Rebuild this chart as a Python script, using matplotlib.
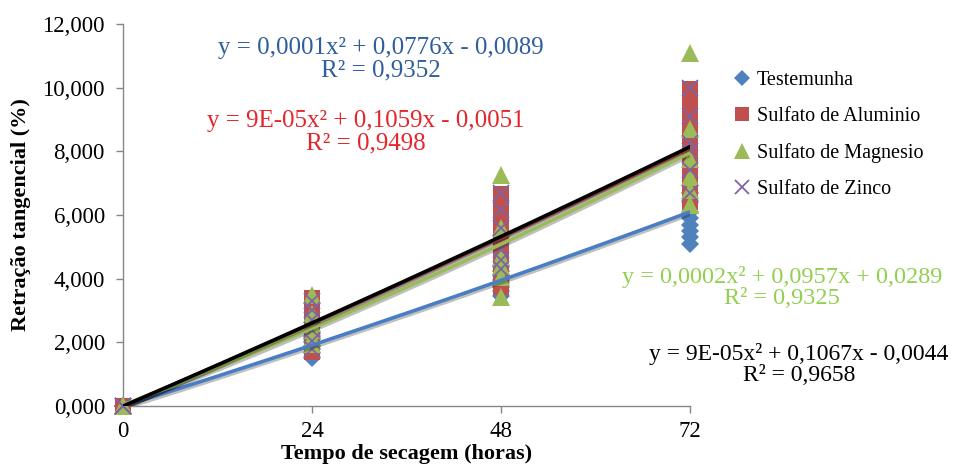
import numpy as np
import matplotlib
matplotlib.use("Agg")
import matplotlib.pyplot as plt
import matplotlib.patheffects as pe
from matplotlib.ticker import FuncFormatter

plt.rcParams['font.family'] = ['Liberation Serif', 'DejaVu Serif']

# tempos de secagem (horas)
tempo = [0, 24, 48, 72]

# leituras de retracao tangencial (%) por tempo, estimadas do grafico
testemunha = [
    [0, 0, 0, 0],
    [1.5, 1.65, 1.8, 1.9, 2.0, 2.1, 2.2, 2.3],
    [3.45, 3.6, 3.75, 3.85, 3.95, 4.1, 4.25, 4.4],
    [5.1, 5.3, 5.5, 5.7, 5.9, 6.1, 6.4, 6.7],
]
aluminio = [
    [0, 0, 0, 0],
    [1.7, 2.0, 2.3, 2.6, 2.9, 3.15, 3.4],
    [3.75, 4.1, 4.45, 4.8, 5.15, 5.5, 5.9, 6.3, 6.65],
    [6.4, 6.8, 7.2, 7.6, 8.0, 8.4, 8.8, 9.2, 9.6, 9.95],
]
magnesio = [
    [0, 0, 0],
    [1.95, 2.15, 2.4, 2.6, 2.9, 3.5],
    [3.42, 4.05, 4.4, 4.68, 5.6, 7.26],
    [6.3, 6.8, 7.2, 7.75, 8.7, 11.1],
]
zinco = [
    [0, 0, 0],
    [1.8, 2.05, 2.4, 2.7, 3.0, 3.3],
    [4.3, 4.6, 4.9, 5.6, 6.15, 6.7],
    [6.7, 7.4, 8.0, 8.25, 9.1, 10.0],
]

# coeficientes das linhas de tendencia (a, b, c)
coef_test = [0.0001, 0.0776, -0.0089]
coef_alu = [0.00009, 0.1059, -0.0051]
coef_mag = [0.0002, 0.0957, 0.0289]
coef_zin = [0.00009, 0.1067, -0.0044]

eq_test = "y = 0,0001x² + 0,0776x - 0,0089\nR² = 0,9352"
eq_alu = "y = 9E-05x² + 0,1059x - 0,0051\nR² = 0,9498"
eq_mag = "y = 0,0002x² + 0,0957x + 0,0289\nR² = 0,9325"
eq_zin = "y = 9E-05x² + 0,1067x - 0,0044\nR² = 0,9658"

fig = plt.figure(figsize=(9.55, 4.68), dpi=100)
ax = fig.add_axes([0.1288, 0.1325, 0.5937, 0.8162])

series = [
    ("Testemunha", testemunha, "D", "#4F81BD", 9.5),
    ("Sulfato de Aluminio", aluminio, "s", "#C0504D", 11.5),
    ("Sulfato de Magnesio", magnesio, "^", "#9BBB59", 13.5),
    ("Sulfato de Zinco", zinco, "x", "#8064A2", 12),
]

for nome, dados, mk, cor, ms in series:
    xs = []
    ys = []
    for t, vals in zip(tempo, dados):
        xs += [t] * len(vals)
        ys += vals
    if mk == "x":
        ax.plot(xs, ys, ls="none", marker=mk, color=cor, ms=ms, mew=1.3,
                label=nome, clip_on=False, zorder=3)
    else:
        ax.plot(xs, ys, ls="none", marker=mk, color=cor, ms=ms, mew=0,
                label=nome, clip_on=False, zorder=3)

# linhas de tendencia polinomiais
xx = np.linspace(0, 72, 200)
sombra = [pe.SimpleLineShadow(offset=(1, -1.5), alpha=0.25), pe.Normal()]
for coef, cor in [(coef_test, "#4A7EC4"), (coef_alu, "#C0504D"),
                  (coef_mag, "#9BBB59"), (coef_zin, "black")]:
    ax.plot(xx, np.polyval(coef, xx), color=cor, lw=2.6, zorder=4,
            path_effects=sombra, solid_capstyle="round")

ax.set_xlim(0, 72)
ax.set_ylim(0, 12)
ax.set_xticks(tempo)
ax.set_yticks(np.arange(0, 13, 2))
ax.yaxis.set_major_formatter(FuncFormatter(lambda v, p: f"{v:.3f}".replace(".", ",")))

for s in ["top", "right"]:
    ax.spines[s].set_visible(False)
for s in ["left", "bottom"]:
    ax.spines[s].set_color("#868686")
    ax.spines[s].set_linewidth(1.0)
ax.tick_params(axis="both", colors="#868686", labelcolor="black",
               labelsize=16.5, length=5, width=1.0, direction="out")
ax.tick_params(axis="x", pad=6)
ax.tick_params(axis="y", pad=8)

ax.set_ylabel("Retração tangencial (%)", fontsize=16, fontweight="bold", labelpad=8)
ax.set_xlabel("Tempo de secagem (horas)", fontsize=16, fontweight="bold", labelpad=1)

# equacoes
ax.text(0.455, 0.908, eq_test, transform=ax.transAxes, ha="center", va="center",
        fontsize=18, color="#2F5E9E", linespacing=1.0)
ax.text(0.4286, 0.716, eq_alu, transform=ax.transAxes, ha="center", va="center",
        fontsize=18, color="#E3262B", linespacing=1.0)
ax.text(1.162, 0.31, eq_mag, transform=ax.transAxes, ha="center", va="center",
        fontsize=17.5, color="#92D050", linespacing=1.03)
ax.text(1.192, 0.1086, eq_zin, transform=ax.transAxes, ha="center", va="center",
        fontsize=17, color="black", linespacing=1.05)

ax.legend(loc="upper left", bbox_to_anchor=(1.057, 0.899), frameon=False,
          fontsize=14.5, handletextpad=0.1, labelspacing=0.85,
          handlelength=1.2, borderaxespad=0, markerscale=0.85)

fig.savefig("out.png", dpi=100)
